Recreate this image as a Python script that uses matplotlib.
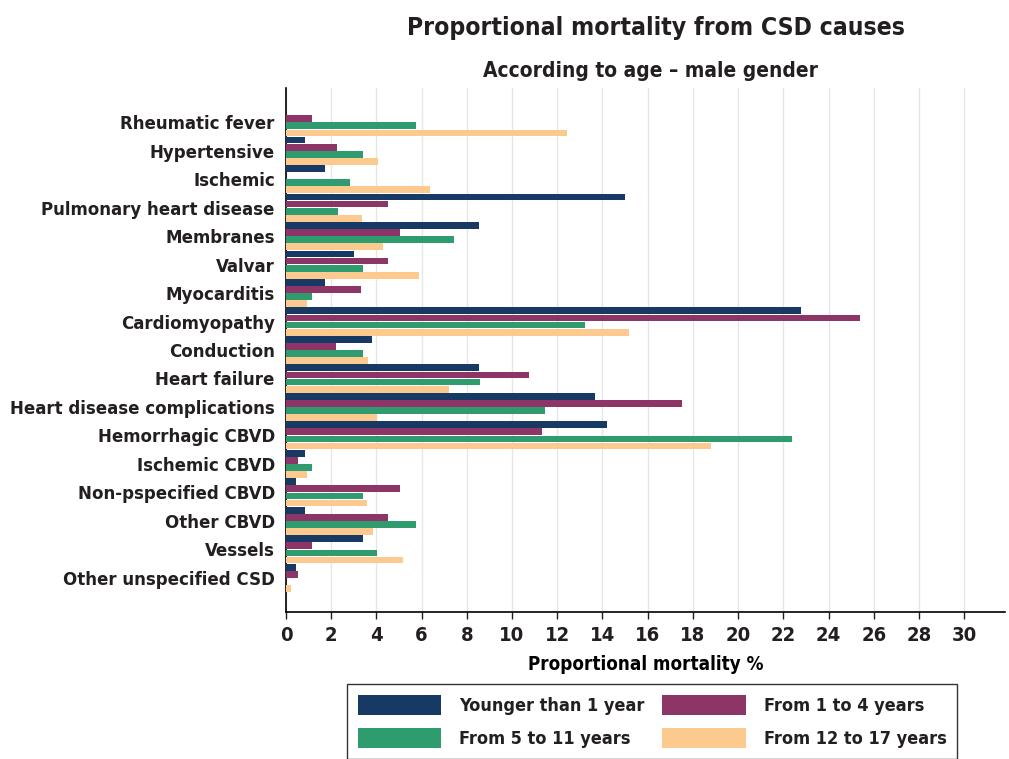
import numpy as np
import matplotlib
matplotlib.use('Agg')
import matplotlib.pyplot as plt
from matplotlib import font_manager

# pick a narrow bold font if available
names = {f.name for f in font_manager.fontManager.ttflist}
if 'Liberation Sans Narrow' in names:
    plt.rcParams['font.family'] = ['Liberation Sans Narrow', 'DejaVu Sans']
else:
    plt.rcParams['font.family'] = ['DejaVu Sans']
    plt.rcParams['font.stretch'] = 'condensed'
plt.rcParams['font.weight'] = 'bold'
plt.rcParams['text.color'] = '#231f20'
plt.rcParams['xtick.color'] = '#231f20'
plt.rcParams['ytick.color'] = '#231f20'

# Data
causes = ['Rheumatic fever', 'Hypertensive', 'Ischemic', 'Pulmonary heart disease',
          'Membranes', 'Valvar', 'Myocarditis', 'Cardiomyopathy', 'Conduction',
          'Heart failure', 'Heart disease complications', 'Hemorrhagic CBVD',
          'Ischemic CBVD', 'Non-pspecified CBVD', 'Other CBVD', 'Vessels',
          'Other unspecified CSD']

under_1 = [0, 0.84, 1.71, 14.99, 8.55, 3.01, 1.71, 22.77, 3.79, 8.56, 13.69, 14.18,
           0.84, 0.43, 0.84, 3.41, 0.43]
age_1_4 = [1.14, 2.24, 0, 4.53, 5.04, 4.53, 3.34, 25.4, 2.23, 10.73, 17.5, 11.32,
           0.55, 5.04, 4.53, 1.14, 0.55]
age_5_11 = [5.75, 3.41, 2.83, 2.30, 7.45, 3.41, 1.14, 13.23, 3.40, 8.60, 11.47, 22.40,
            1.14, 3.41, 5.75, 4.01, 0]
age_12_17 = [12.42, 4.06, 6.36, 3.36, 4.29, 5.88, 0.93, 15.16, 3.62, 7.22, 4.04, 18.78,
             0.91, 3.60, 3.83, 5.16, 0.22]

series = [under_1, age_1_4, age_5_11, age_12_17]
labels = ['Younger than 1 year', 'From 1 to 4 years', 'From 5 to 11 years', 'From 12 to 17 years']
colors = ['#173a64', '#8e3567', '#2e9c6e', '#fcc98f']

fig = plt.figure(figsize=(10.09, 7.59), dpi=100)
ax = fig.add_axes([0.2834, 0.1937, 0.7126, 0.6903])

y = np.arange(len(causes))
h = 0.25
offsets = [-1.5 * h, -0.5 * h, 0.5 * h, 1.5 * h]
bars = []
for vals, off, col, lab in zip(series, offsets, colors, labels):
    b = ax.barh(y + off, vals, height=h * 0.95, color=col, label=lab, zorder=3)
    bars.append(b)

ax.set_ylim(len(causes) - 1 + 1.2, -1.2)
ax.set_xlim(0, 31.8)
ax.set_xticks(np.arange(0, 31, 2))
ax.set_yticks(y)
ax.set_yticklabels(causes, fontsize=13.3, fontweight='bold')
ax.tick_params(axis='y', length=0, pad=8)
ax.tick_params(axis='x', labelsize=14.5, length=5, width=1, direction='out', pad=5)
for t in ax.get_xticklabels():
    t.set_fontweight('bold')
ax.grid(axis='x', color='#e6e6e6', linewidth=1, zorder=0)
for s in ['top', 'right']:
    ax.spines[s].set_visible(False)
for s in ['left', 'bottom']:
    ax.spines[s].set_color('black')
    ax.spines[s].set_linewidth(1.2)

ax.set_xlabel('Proportional mortality %', fontsize=13.5, fontweight='bold', labelpad=7)

fig.text(0.6503, 0.963, 'Proportional mortality from CSD causes', ha='center', va='center',
         fontsize=17.7, fontweight='bold')
fig.text(0.6445, 0.907, 'According to age \u2013 male gender', ha='center', va='center',
         fontsize=15, fontweight='bold')

# legend filled row by row: blue, purple / green, orange
order = [0, 2, 1, 3]
leg = fig.legend(handles=[bars[i] for i in order], labels=[labels[i] for i in order],
                 ncol=2, loc='upper left', borderaxespad=0,
                 bbox_to_anchor=(0.344, 0.0988), frameon=True, fancybox=False,
                 edgecolor='black', fontsize=13, handlelength=4.6, handleheight=1.3,
                 columnspacing=1.0, handletextpad=1.0, labelspacing=0.75,
                 borderpad=0.6)
leg.get_frame().set_linewidth(1.0)
for t in leg.get_texts():
    t.set_fontweight('bold')

fig.savefig('out.png', dpi=100)
